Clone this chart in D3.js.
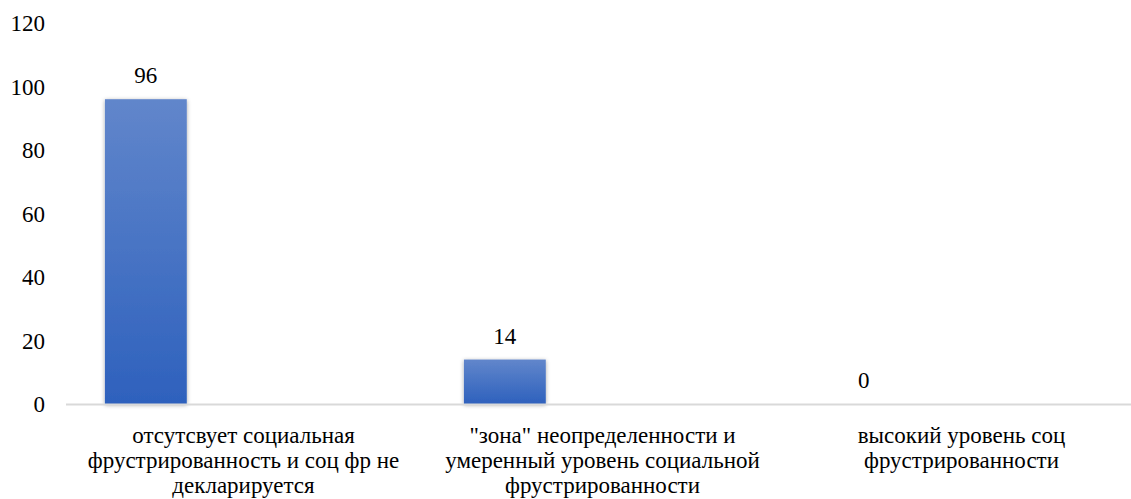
<!DOCTYPE html>
<html>
<head>
<meta charset="utf-8">
<script src="https://cdn.jsdelivr.net/npm/d3@7"></script>
</head>
<body style="margin:0;padding:0;background:#fff">
<svg id="fig" width="1131" height="499" style="display:block"></svg>
<script>
const categories = [
  ["отсутсвует социальная", "фрустрированность и соц фр не", "декларируется"],
  ["\"зона\" неопределенности и", "умеренный уровень социальной", "фрустрированности"],
  ["высокий уровень соц", "фрустрированности"]
];
const categoryKeys = ["c1", "c2", "c3"];
const values = [96, 14, 0];
const yTicks = [0, 20, 40, 60, 80, 100, 120];

const FSTYLE = "font-family: 'Liberation Serif' !important; font-size: 23px; fill: #000;";
const svg = d3.select("#fig");
const W = 1131;
const plotLeft = 64, bandW = 359;
const x = d3.scaleBand().domain(categoryKeys).range([plotLeft, plotLeft + bandW * 3]).paddingInner(0).paddingOuter(0);
const y = d3.scaleLinear().domain([0, 120]).range([404, 23]);

const defs = svg.append("defs");
const grad = defs.append("linearGradient").attr("id", "barGrad").attr("x1", 0).attr("y1", 0).attr("x2", 0).attr("y2", 1);
grad.append("stop").attr("offset", "0%").attr("stop-color", "#6186cb");
grad.append("stop").attr("offset", "100%").attr("stop-color", "#2e61bd");
const f = defs.append("filter").attr("id", "shadow").attr("x", "-20%").attr("y", "-20%").attr("width", "140%").attr("height", "140%");
f.append("feDropShadow").attr("dx", 0).attr("dy", 1).attr("stdDeviation", 2).attr("flood-color", "#000").attr("flood-opacity", 0.35);

// y axis tick labels
const yAxis = d3.axisLeft(y).tickValues(yTicks).tickSize(0).tickPadding(0);
const ya = svg.append("g").attr("transform", "translate(45,0)").call(yAxis);
ya.select(".domain").remove();
ya.attr("font-family", "Liberation Serif").attr("font-size", 23);
ya.selectAll("text").attr("font-family", "Liberation Serif").attr("style", FSTYLE).attr("dy", "0.34em");

const barOff = 0.114, barFrac = 0.228;
const data = categoryKeys.map((k, i) => ({ k, v: values[i] }));

// bars
svg.append("g").selectAll("rect").data(data.filter(d => d.v > 0)).join("rect")
  .attr("x", d => x(d.k) + x.bandwidth() * barOff)
  .attr("width", x.bandwidth() * barFrac)
  .attr("y", d => y(d.v))
  .attr("height", d => y(0) - y(d.v))
  .attr("fill", "url(#barGrad)")
  .attr("filter", "url(#shadow)");

// baseline axis
svg.append("line").attr("x1", 66).attr("x2", W).attr("y1", y(0) + 0.5).attr("y2", y(0) + 0.5)
  .attr("stroke", "#d9d9d9").attr("stroke-width", 2);

// value labels
svg.append("g").selectAll("text").data(data).join("text")
  .attr("x", d => x(d.k) + x.bandwidth() * (barOff + barFrac / 2))
  .attr("y", d => y(d.v) - 16)
  .attr("text-anchor", "middle")
  .attr("font-family", "Liberation Serif").attr("style", FSTYLE)
  .text(d => d.v);

// category labels
const xa = svg.append("g");
categoryKeys.forEach((k, i) => {
  const cx = x(k) + x.bandwidth() / 2;
  const t = xa.append("text").attr("text-anchor", "middle")
    .attr("font-family", "Liberation Serif").attr("style", FSTYLE)
    .attr("x", cx).attr("y", 443);
  categories[i].forEach((line, j) => {
    t.append("tspan").attr("x", cx).attr("y", 443 + j * 25).text(line);
  });
});
</script>
</body>
</html>
